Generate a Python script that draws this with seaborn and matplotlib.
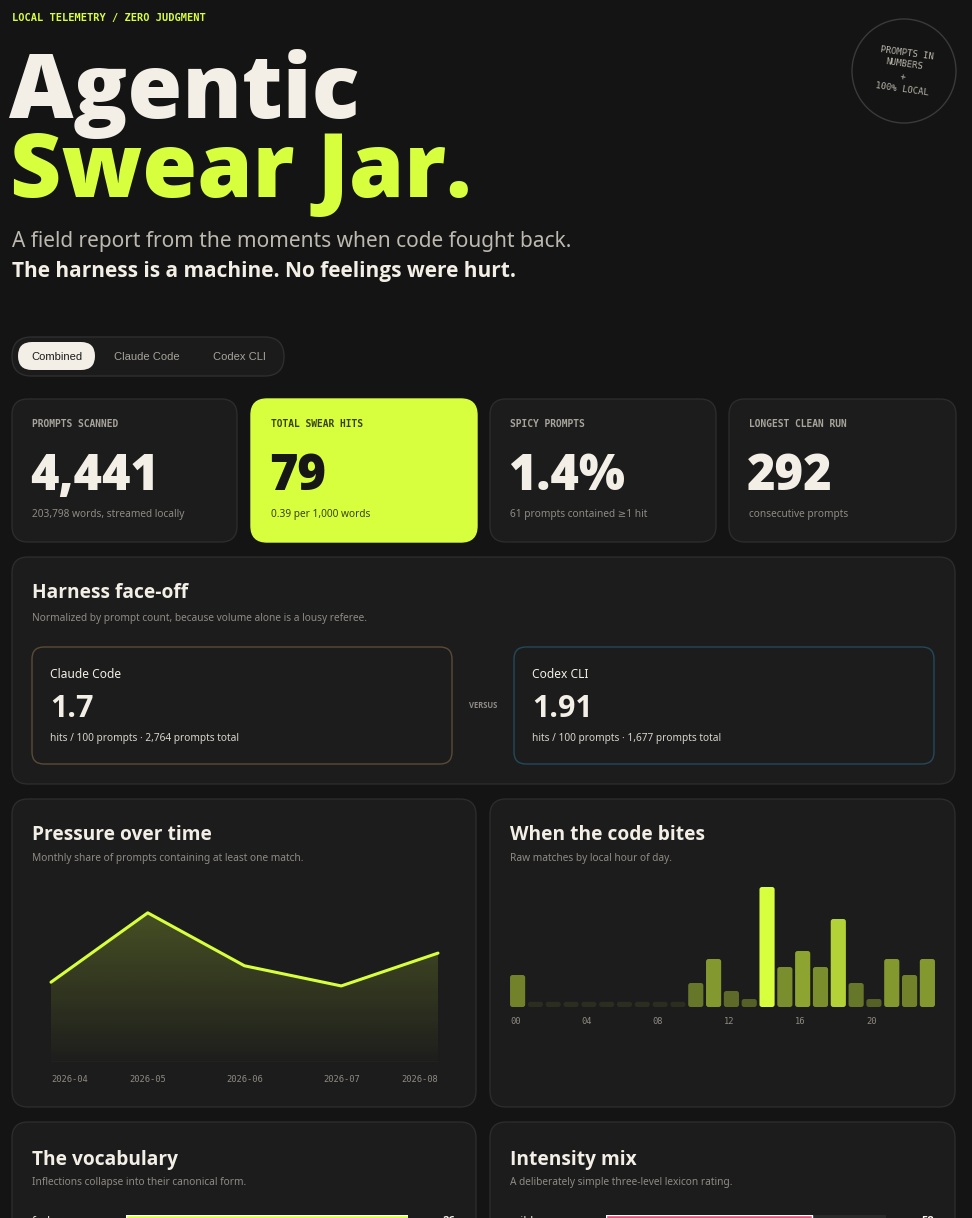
import numpy as np
import pandas as pd
import matplotlib
matplotlib.use("Agg")
import matplotlib.pyplot as plt
import matplotlib.colors as mcolors
from matplotlib import font_manager as fm
from matplotlib.patches import FancyBboxPatch, Circle
import seaborn as sns

# ---------------- data ----------------
stat_labels = ["PROMPTS SCANNED", "TOTAL SWEAR HITS", "SPICY PROMPTS", "LONGEST CLEAN RUN"]
stat_values = ["4,441", "79", "1.4%", "292"]
stat_notes = ["203,798 words, streamed locally", "0.39 per 1,000 words",
              "61 prompts contained \u22651 hit", "consecutive prompts"]
toggle_options = ["Combined", "Claude Code", "Codex CLI"]
harness_names = ["Claude Code", "Codex CLI"]
harness_rates = ["1.7", "1.91"]
harness_prompts = ["2,764", "1,677"]
months = ["2026-04", "2026-05", "2026-06", "2026-07", "2026-08"]
monthly_share = [1.07, 2.00, 1.29, 1.02, 1.46]
hours = [f"{h:02d}" for h in range(24)]
hourly_hits = [4, 0, 0, 0, 0, 0, 0, 0, 0, 0, 3, 6, 2, 1, 15, 5, 7, 5, 11, 3, 1, 6, 4, 6]
hour_tick_every = 4
vocab_words = ["fuck"]
vocab_counts = [26]
intensity_levels = ["mild"]
intensity_counts = [58]
total_hits = 79

# ---------------- fonts ----------------
def _weight(e):
    w = e.weight
    if isinstance(w, str):
        w = fm.weight_dict.get(w, 400)
    return int(w)


_avail = {}
for _e in fm.fontManager.ttflist:
    _avail.setdefault(_e.name, []).append(_weight(_e))


def pick(cands, minw):
    for c in cands:
        if c in _avail and max(_avail[c]) >= minw:
            return c
    return "DejaVu Sans"


HEAVY_F = pick(["Noto Sans", "Open Sans", "Lato", "Roboto", "Inter"], 800)
BOLD_F = pick(["Noto Sans", "Open Sans", "Roboto", "Lato", "Inter"], 700)
SANS = ["Noto Sans", "DejaVu Sans"]
HEAVY = [HEAVY_F, "DejaVu Sans"]
BOLD = [BOLD_F, "DejaVu Sans"]
MONO = ["DejaVu Sans Mono"]
UI = ["Liberation Sans", "DejaVu Sans"]

# ---------------- style ----------------
BG = "#141414"
CARD = "#1c1c1c"
BORDER = "#2c2c2c"
CREAM = "#f3efe6"
LIME = "#d8ff3e"
GREY = "#8f8b84"
PINK = "#e8507a"

sns.set_theme(style="dark")
plt.rcParams["font.family"] = SANS
plt.rcParams["axes.facecolor"] = CARD

W, H = 972, 1218
fig = plt.figure(figsize=(W / 100, H / 100), dpi=100, facecolor=BG)
bg = fig.add_axes([0, 0, 1, 1])
bg.set_xlim(0, W)
bg.set_ylim(H, 0)
bg.axis("off")
bg.set_facecolor(BG)


def pax(x0, y0, x1, y1):
    return fig.add_axes([x0 / W, 1 - y1 / H, (x1 - x0) / W, (y1 - y0) / H])


def card(x0, y0, x1, y1, fc=CARD, ec=BORDER, r=16, lw=1.0, z=1):
    bg.add_patch(FancyBboxPatch((x0, y0), x1 - x0, y1 - y0,
                                boxstyle=f"round,pad=0,rounding_size={r}",
                                fc=fc, ec=ec, lw=lw, zorder=z))


def txt(x, y, s, size, color=CREAM, weight="normal", family=SANS, ha="left", va="baseline", **kw):
    bg.text(x, y, s, fontsize=size, color=color, fontweight=weight, family=family,
            ha=ha, va=va, zorder=5, **kw)


# ---------------- hero ----------------
txt(12, 18, "LOCAL TELEMETRY / ZERO JUDGMENT", 7.5, LIME, "bold", MONO, va="center")
txt(9, 118, "Agentic", 64, CREAM, 900, HEAVY)
txt(10, 197, "Swear Jar.", 64, LIME, 900, HEAVY)
txt(12, 247, "A field report from the moments when code fought back.", 15, "#bdb9b0")
txt(12, 277, "The harness is a machine. No feelings were hurt.", 15, CREAM, "bold", BOLD)

bg.add_patch(Circle((904, 71), 52, fill=False, ec="#3a3a3a", lw=1, zorder=2))
for (cx, cy, s) in [(907, 53, "PROMPTS IN"), (904.5, 64.5, "NUMBERS"),
                    (903, 76.5, "+"), (902, 89, "100% LOCAL")]:
    txt(cx, cy, s, 6.5, "#b8b4aa", "normal", MONO, ha="center", va="center",
        rotation=-8, rotation_mode="anchor")

# ---------------- toggle ----------------
card(12, 337, 284, 376, fc="#1b1b1b", ec="#2e2e2e", r=19.5)
card(18, 342, 95, 370, fc=CREAM, ec="none", r=14, z=2)
for cx, s in zip([56.5, 147, 239], toggle_options):
    txt(cx, 356.5, s, 8, "#1a1a1a" if s == toggle_options[0] else "#a8a49c",
        family=UI, ha="center", va="center")

# ---------------- stat cards ----------------
card_x = [(12, 237), (251, 477), (490, 716), (729, 956)]
for i, ((x0, x1), lab, val, note) in enumerate(zip(card_x, stat_labels, stat_values, stat_notes)):
    hi = (i == 1)
    card(x0, 399, x1, 542, fc=LIME if hi else CARD, ec=LIME if hi else BORDER, r=16)
    txt(x0 + 20, 424, lab, 6.9, "#3a4212" if hi else "#a8a49c", "bold", MONO, va="center")
    txt(x0 + 18, 490, val, 35, "#161616" if hi else CREAM, 900, HEAVY)
    txt(x0 + 20, 515, note, 7.3, "#3b4218" if hi else GREY, va="center")

# ---------------- harness face-off ----------------
card(12, 557, 955, 784)
txt(32, 598, "Harness face-off", 13.8, CREAM, "bold", BOLD)
txt(32, 618, "Normalized by prompt count, because volume alone is a lousy referee.", 7.3, GREY, va="center")
sub_x = [(32, 452), (514, 934)]
sub_ec = ["#5b4a36", "#23495a"]
for (x0, x1), ec, name, rate, n in zip(sub_x, sub_ec, harness_names, harness_rates, harness_prompts):
    card(x0, 647, x1, 764, fc=CARD, ec=ec, r=12, z=2)
    txt(x0 + 18, 674, name, 8.6, CREAM, va="center")
    txt(x0 + 18, 717, rate, 22, CREAM, "bold", BOLD)
    txt(x0 + 18, 738, f"hits / 100 prompts \u00b7 {n} prompts total", 7.3, "#d8d4cb", va="center")
txt(483, 706, "VERSUS", 5.5, GREY, "bold", BOLD, ha="center", va="center")

# ---------------- chart cards ----------------
card(12, 799, 476, 1107)
card(490, 799, 955, 1107)
txt(32, 840, "Pressure over time", 13.8, CREAM, "bold", BOLD)
txt(32, 858, "Monthly share of prompts containing at least one match.", 7.3, GREY, va="center")
txt(510, 840, "When the code bites", 13.8, CREAM, "bold", BOLD)
txt(510, 858, "Raw matches by local hour of day.", 7.3, GREY, va="center")

# line chart
ax = pax(51, 883, 438, 1062)
ax.set_facecolor("none")
idx = np.arange(len(months))
df_m = pd.DataFrame({"i": idx, "share": monthly_share})
YMAX = 2.4
poly = ax.fill_between(idx, monthly_share, 0, color="none", lw=0)
lime_rgb = np.array(mcolors.to_rgb(LIME))
t = np.linspace(0, 1, 256).reshape(-1, 1)
grad = np.zeros((256, 1, 4))
grad[..., :3] = lime_rgb
grad[..., 3] = 0.01 + 0.26 * t
im = ax.imshow(grad, extent=[0, len(months) - 1, 0, YMAX], origin="lower",
               aspect="auto", zorder=1, interpolation="bilinear")
im.set_clip_path(poly.get_paths()[0], transform=ax.transData)
sns.lineplot(data=df_m, x="i", y="share", ax=ax, color=LIME, lw=2.2, zorder=3, clip_on=False)
ax.axhline(0, color="#333333", lw=1, zorder=2)
ax.set_xlim(0, len(months) - 1)
ax.set_ylim(0, YMAX)
ax.set_xlabel("")
ax.set_ylabel("")
ax.set_yticks([])
ax.set_xticks(idx)
ax.set_xticklabels(months, family=MONO, fontsize=6.3, color=GREY)
labs = ax.get_xticklabels()
labs[0].set_ha("left")
labs[-1].set_ha("right")
ax.tick_params(axis="x", length=0, pad=9)
for s in ax.spines.values():
    s.set_visible(False)
ax.grid(False)

# hour bars
ax2 = pax(508.7, 879, 936.3, 1007)
ax2.set_facecolor("none")
card_rgb = np.array(mcolors.to_rgb(CARD))
vmax = max(hourly_hits)
alphas = [0.25 + 0.75 * v / vmax if v > 0 else 0.075 for v in hourly_hits]
colors = [mcolors.to_hex(card_rgb + a * (lime_rgb - card_rgb)) for a in alphas]
stub = 0.66
df_h = pd.DataFrame({"hour": hours, "hits": hourly_hits})
df_h["shown"] = np.where(df_h["hits"] > 0, df_h["hits"], stub)
sns.barplot(data=df_h, x="hour", y="shown", hue="hour", order=hours, hue_order=hours,
            palette=colors, legend=False, width=0.85, ax=ax2, saturation=1)
ax2.set_xlim(-0.5, 23.5)
ax2.set_ylim(0, 16)
px_x = (936.3 - 508.7) / 24
px_y = 128 / 16
for p in list(ax2.patches):
    x, y, w, h = p.get_x(), p.get_y(), p.get_width(), p.get_height()
    fc = p.get_facecolor()
    p.remove()
    ax2.add_patch(FancyBboxPatch((x, y), w, h, boxstyle="round,pad=0,rounding_size=0.14",
                                 mutation_aspect=px_x / px_y, fc=fc, ec="none", zorder=2))
tick_pos = [i - 0.425 for i in range(0, 24, hour_tick_every)]
ax2.set_xticks(tick_pos)
ax2.set_xticklabels([hours[i] for i in range(0, 24, hour_tick_every)],
                    family=MONO, fontsize=6.3, color=GREY, ha="left")
ax2.tick_params(axis="x", length=0, pad=7)
ax2.set_yticks([])
ax2.set_xlabel("")
ax2.set_ylabel("")
for s in ax2.spines.values():
    s.set_visible(False)
ax2.grid(False)

# ---------------- bottom cards ----------------
card(12, 1122, 476, 1260)
card(490, 1122, 955, 1260)
txt(32, 1165, "The vocabulary", 13.8, CREAM, "bold", BOLD)
txt(32, 1183, "Inflections collapse into their canonical form.", 7.3, GREY, va="center")
txt(510, 1165, "Intensity mix", 13.8, CREAM, "bold", BOLD)
txt(510, 1183, "A deliberately simple three-level lexicon rating.", 7.3, GREY, va="center")

ax3 = pax(126, 1215, 408, 1225)
ax3.set_facecolor("#2a2a2a")
sns.barplot(x=vocab_counts, y=vocab_words, orient="h", color=LIME, width=1, ax=ax3, saturation=1)
ax3.set_xlim(0, max(vocab_counts))
ax3.axis("off")
txt(32, 1221, vocab_words[0], 8, CREAM, va="center")
txt(455, 1221, str(vocab_counts[0]), 8, CREAM, "bold", BOLD, ha="right", va="center")

ax4 = pax(606, 1215, 886, 1225)
ax4.set_facecolor("#2a2a2a")
sns.barplot(x=intensity_counts, y=intensity_levels, orient="h", color=PINK, width=1, ax=ax4, saturation=1)
ax4.set_xlim(0, total_hits)
for s in ax4.spines.values():
    s.set_visible(False)
ax4.set_xticks([])
ax4.set_yticks([])
ax4.set_xlabel("")
ax4.set_ylabel("")
txt(510, 1221, intensity_levels[0], 8, CREAM, va="center")
txt(934, 1221, str(intensity_counts[0]), 8, CREAM, "bold", BOLD, ha="right", va="center")

fig.savefig("out.png", dpi=100, facecolor=BG)
